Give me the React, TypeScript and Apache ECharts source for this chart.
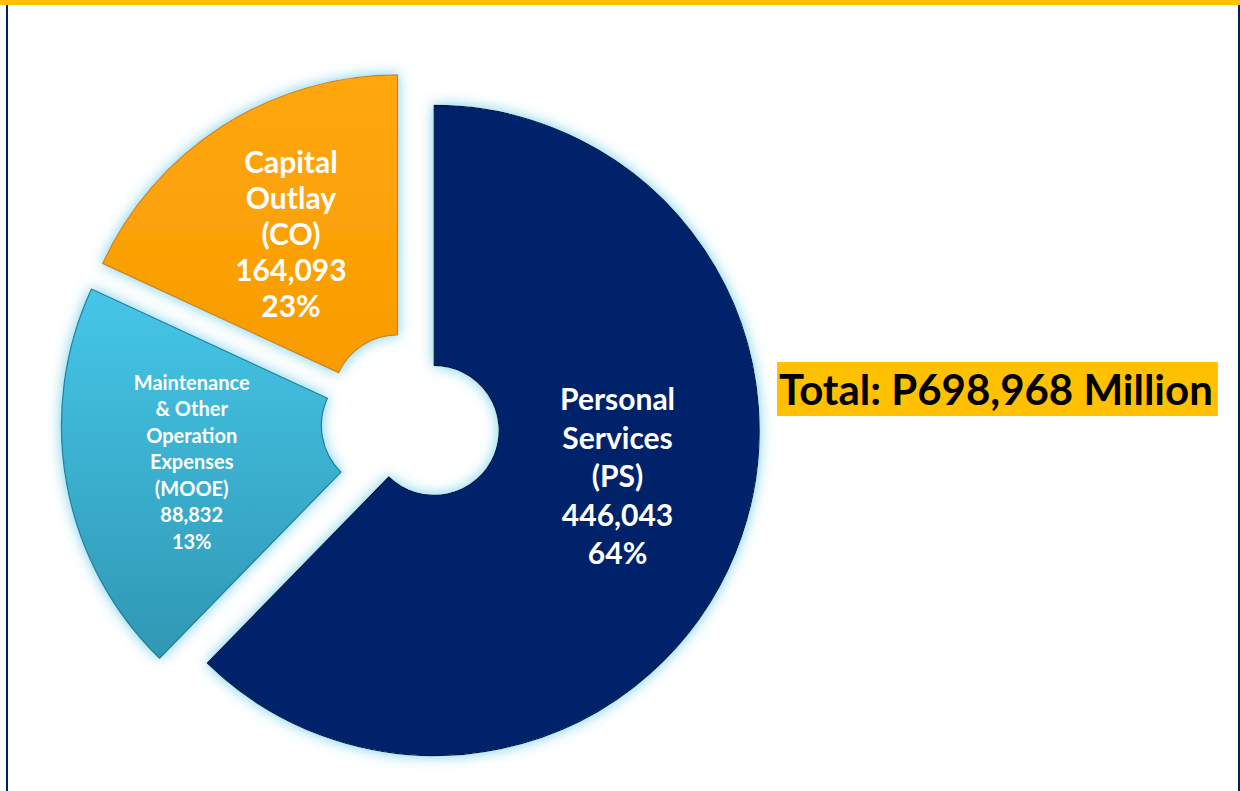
import React, { useEffect, useRef } from "react";
import * as echarts from "echarts";

// Slice names (as written inside the slices)
const sliceNames = [
  "Personal\nServices\n(PS)",
  "Maintenance\n& Other\nOperation\nExpenses\n(MOOE)",
  "Capital\nOutlay\n(CO)",
];
// Amounts in million pesos, as labelled
const amounts = [446043, 88832, 164093];
// Slice sizes as drawn in the picture (share of the full circle, %)
const drawnShares = [62.3, 19.6, 18.1];
const total = amounts.reduce((a, b) => a + b, 0);
const percentLabels = amounts.map((v) => `${Math.round((v / total) * 100)}%`);

const sliceFill = [
  { top: "#06236a", bottom: "#06236a" },
  { top: "#46c6e8", bottom: "#2f98b4" },
  { top: "#ffa70e", bottom: "#f89c00" },
];
const sliceBorder = ["#02154a", "#237f9a", "#cf8500"];
const labelFont = [
  { fontSize: 30, lineHeight: 38.5 },
  { fontSize: 20, lineHeight: 26.5 },
  { fontSize: 30, lineHeight: 36 },
];

export default function App() {
  const ref = useRef<HTMLDivElement>(null);
  useEffect(() => {
    if (!ref.current) return;
    const chart = echarts.init(ref.current, null, { renderer: "svg" });
    const data = sliceNames.map((name, i) => ({
      name,
      value: drawnShares[i],
      selected: true,
      itemStyle: {
        color:
          sliceFill[i].top === sliceFill[i].bottom
            ? sliceFill[i].top
            : new echarts.graphic.LinearGradient(0, 0, 0, 1, [
                { offset: 0, color: sliceFill[i].top },
                { offset: 1, color: sliceFill[i].bottom },
              ]),
        borderColor: sliceBorder[i],
        borderWidth: 1.2,
        shadowBlur: 14,
        shadowColor: "rgba(110, 205, 232, 0.95)",
      },
      select: { itemStyle: { borderColor: sliceBorder[i], borderWidth: 1.2 } },
      label: {
        fontSize: labelFont[i].fontSize,
        lineHeight: labelFont[i].lineHeight,
      },
    }));
    chart.setOption({
      animation: false,
      backgroundColor: "#ffffff",
      title: {
        text: `Total: P${total.toLocaleString("en-US")} Million`,
        left: 777,
        top: 362,
        padding: [6, 5, 6, 2],
        backgroundColor: "#FFC000",
        textStyle: {
          fontFamily: "Lato",
          fontWeight: "bold",
          fontSize: 42,
          lineHeight: 42,
          color: "#000000",
        },
      },
      graphic: [
        { type: "rect", shape: { x: 0, y: 0, width: 1240, height: 5 }, style: { fill: "#FFC000" } },
        { type: "rect", shape: { x: 6, y: 5, width: 2, height: 786 }, style: { fill: "#002060" } },
        { type: "rect", shape: { x: 1238, y: 5, width: 2, height: 786 }, style: { fill: "#002060" } },
      ],
      series: [
        {
          type: "pie",
          center: [411, 421],
          radius: [65, 325],
          startAngle: 90,
          clockwise: true,
          selectedMode: "multiple",
          selectedOffset: 25,
          avoidLabelOverlap: false,
          emphasis: { disabled: true },
          labelLine: { show: false },
          label: {
            show: true,
            position: "inside",
            color: "#ffffff",
            fontFamily: "Lato",
            fontWeight: "bold",
            formatter: (p: any) =>
              `${p.name}\n${amounts[p.dataIndex].toLocaleString("en-US")}\n${percentLabels[p.dataIndex]}`,
          },
          labelLayout: (p: any) => (p.dataIndex === 0 ? { dy: -30 } : {}),
          data,
        },
      ],
    });
    return () => chart.dispose();
  }, []);
  return (
    <div
      ref={ref}
      style={{ position: "fixed", left: 0, top: 0, width: 1240, height: 791 }}
    />
  );
}
